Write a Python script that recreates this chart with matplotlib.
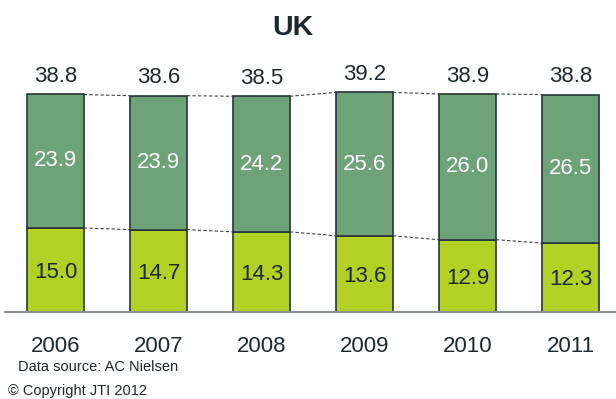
import matplotlib.pyplot as plt
import numpy as np

plt.rcParams['font.family'] = ['Liberation Sans', 'DejaVu Sans']

years = ["2006", "2007", "2008", "2009", "2010", "2011"]
lower = [15.0, 14.7, 14.3, 13.6, 12.9, 12.3]
upper = [23.9, 23.9, 24.2, 25.6, 26.0, 26.5]
totals = [38.8, 38.6, 38.5, 39.2, 38.9, 38.8]

dark_green = "#6ea378"
lime = "#b2d124"
edge = "#26343c"
txt = "#1c2830"

fig = plt.figure(figsize=(6.16, 3.99), dpi=100)
ax = fig.add_axes([5 / 616, 87 / 399, 611 / 616, 0.632])

x = np.arange(len(years))
w = 0.55
ax.bar(x, lower, width=w, color=lime, edgecolor=edge, linewidth=1.2)
ax.bar(x, upper, width=w, bottom=lower, color=dark_green, edgecolor=edge, linewidth=1.2)

# dashed connectors between neighbouring bars
for i in range(len(x) - 1):
    ax.plot([x[i] + w / 2, x[i + 1] - w / 2], [totals[i], totals[i + 1]],
            ls=(0, (3, 2)), color="#3a444a", lw=0.8)
    ax.plot([x[i] + w / 2, x[i + 1] - w / 2], [lower[i], lower[i + 1]],
            ls=(0, (3, 2)), color="#3a444a", lw=0.8)

for i in range(len(x)):
    ax.text(x[i], lower[i] / 2 - 0.4, f"{lower[i]:.1f}", ha="center", va="center",
            fontsize=16, color=txt)
    ax.text(x[i], lower[i] + upper[i] / 2, f"{upper[i]:.1f}", ha="center", va="center",
            fontsize=16, color="white")
    ax.text(x[i], totals[i] + 1.3, f"{totals[i]:.1f}", ha="center", va="bottom",
            fontsize=16, color=txt)

ax.set_xlim(-0.49, 5.44)
ax.set_ylim(0, 45)
ax.set_xticks(x)
ax.set_xticklabels(years, fontsize=16, color=txt)
ax.tick_params(axis="x", length=0, pad=17)
ax.set_yticks([])
for s in ["top", "right", "left"]:
    ax.spines[s].set_visible(False)
ax.spines["bottom"].set_color("#8a9296")
ax.spines["bottom"].set_linewidth(1.5)

fig.text(293 / 616, 1 - 28 / 399, "UK", ha="center", va="center",
         fontsize=20.5, fontweight="bold", color=txt)
fig.text(18 / 616, 1 - 367 / 399, "Data source: AC Nielsen", ha="left", va="center",
         fontsize=10.5, color=txt)
fig.text(8 / 616, 1 - 391 / 399, "© Copyright JTI 2012", ha="left", va="center",
         fontsize=10.5, color=txt)

fig.savefig("out.png", dpi=100)
